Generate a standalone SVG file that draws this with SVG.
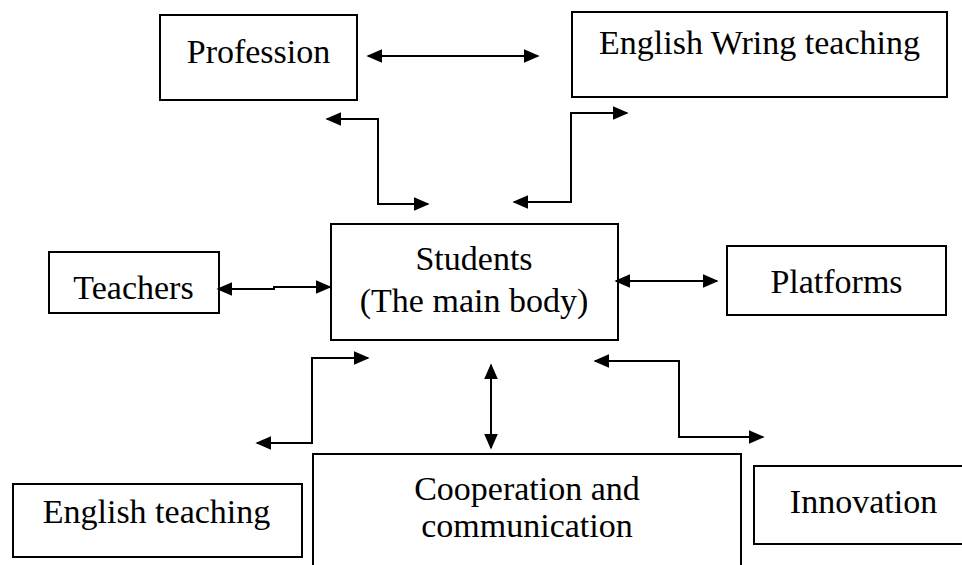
<svg xmlns="http://www.w3.org/2000/svg" width="962" height="565" viewBox="0 0 962 565">
<defs>
<style>
.box{fill:#fff;stroke:#000;stroke-width:2}
.lbl{font-family:"Liberation Serif","Times New Roman",serif;font-size:34px;fill:#000;text-anchor:middle}
.con{fill:none;stroke:#000;stroke-width:2;marker-start:url(#ah);marker-end:url(#ah)}
</style>
<marker id="ah" viewBox="0 0 10 10" refX="9" refY="5" markerUnits="userSpaceOnUse" markerWidth="16" markerHeight="14" orient="auto-start-reverse" preserveAspectRatio="none">
<path d="M0,0 L10,5 L0,10 z" fill="#000"/>
</marker>
</defs>
<rect width="962" height="565" fill="#fff"/>
<g id="profession"><rect class="box" x="160" y="15" width="197" height="85"/><text class="lbl" x="258.5" y="63">Profession</text></g>
<g id="writing"><rect class="box" x="572" y="12" width="375" height="85"/><text class="lbl" x="759.5" y="54">English Wring teaching</text></g>
<g id="teachers"><rect class="box" x="49" y="252" width="170" height="61"/><text class="lbl" x="133.5" y="299">Teachers</text></g>
<g id="students"><rect class="box" x="331" y="224" width="287" height="116"/><text class="lbl" x="474" y="270">Students</text><text class="lbl" x="474" y="312">(The main body)</text></g>
<g id="platforms"><rect class="box" x="727" y="246" width="219" height="69"/><text class="lbl" x="836.5" y="293">Platforms</text></g>
<g id="englishteaching"><rect class="box" x="13" y="484" width="289" height="73"/><text class="lbl" x="156.5" y="523">English teaching</text></g>
<g id="cooperation"><rect class="box" x="313" y="454" width="428" height="130"/><text class="lbl" x="527" y="500">Cooperation and</text><text class="lbl" x="527" y="537">communication</text></g>
<g id="innovation"><rect class="box" x="754" y="466" width="220" height="78"/><text class="lbl" x="863.5" y="513">Innovation</text></g>
<g id="connectors">
<path class="con" d="M368,56 L538,56"/>
<path class="con" d="M327,119 L378,119 L378,204 L428,204"/>
<path class="con" d="M514,202 L571,202 L571,113 L627,113"/>
<path class="con" d="M218,289 L274,289 L274,287 L330,287"/>
<path class="con" d="M616,281 L717,281"/>
<path class="con" d="M491,365 L491,448"/>
<path class="con" d="M257,443 L312,443 L312,358 L368,358"/>
<path class="con" d="M595,361 L679,361 L679,437 L763,437"/>
</g>
</svg>
